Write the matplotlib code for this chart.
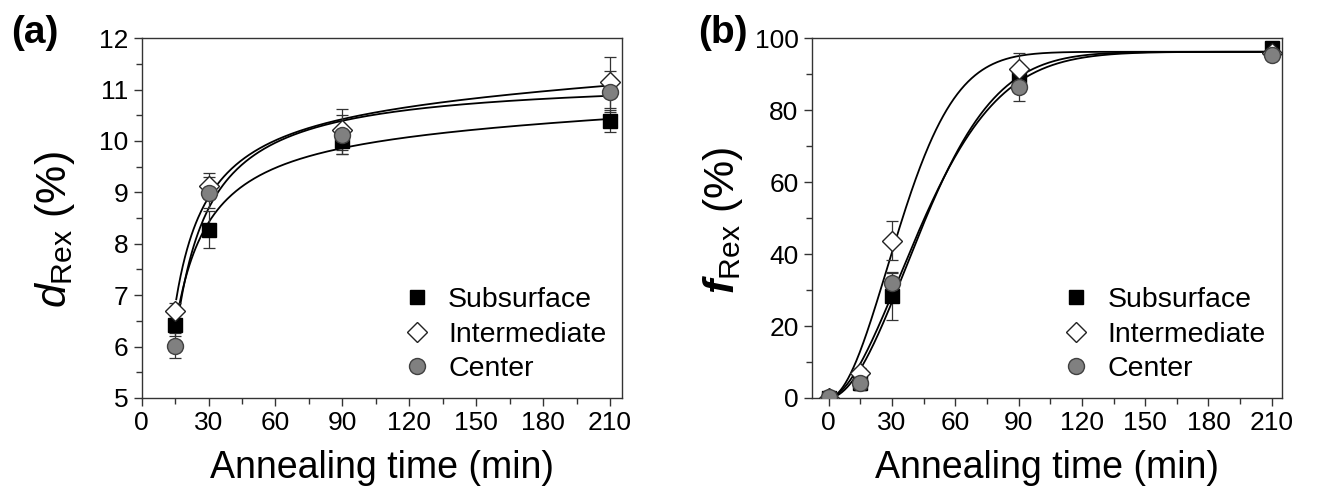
import matplotlib
matplotlib.use("Agg")
import matplotlib.pyplot as plt
import numpy as np

config = {
    "font.family": ["Liberation Sans", "DejaVu Sans"],
    "mathtext.fontset": "custom",
    "mathtext.rm": "Liberation Sans",
    "mathtext.it": "Liberation Sans:italic",
    "mathtext.bf": "Liberation Sans:bold",
    "mathtext.bfit": "Liberation Sans:italic:bold",
    "axes.linewidth": 1.0,
}
plt.rcParams.update(config)

# (a) grain size data
t_a = np.array([15, 30, 90, 210])
d_sub = np.array([6.41, 8.27, 9.99, 10.39])
d_sub_err = np.array([0.20, 0.36, 0.25, 0.21])
d_int = np.array([6.70, 9.13, 10.22, 11.14])
d_int_err = np.array([0.15, 0.25, 0.40, 0.50])
d_cen = np.array([6.02, 8.99, 10.12, 10.96])
d_cen_err = np.array([0.24, 0.30, 0.38, 0.40])

# (b) recrystallized fraction data
t_b = np.array([0, 15, 30, 90, 210])
f_sub = np.array([0.0, 4.2, 28.2, 88.9, 97.2])
f_sub_err = np.array([0.0, 2.0, 6.4, 1.5, 1.0])
f_int = np.array([0.0, 6.9, 43.7, 91.4, 96.0])
f_int_err = np.array([0.0, 1.5, 5.4, 4.4, 1.0])
f_cen = np.array([0.3, 4.2, 32.0, 86.4, 95.4])
f_cen_err = np.array([0.0, 2.0, 3.0, 4.0, 1.0])

labels = ["Subsurface", "Intermediate", "Center"]
x_ticks = [0, 30, 60, 90, 120, 150, 180, 210]

styles = [
    dict(marker="s", ms=10, mfc="black", mec="black", mew=1.0),
    dict(marker="D", ms=10, mfc="white", mec="#222222", mew=1.0),
    dict(marker="o", ms=11.5, mfc="#808080", mec="#404040", mew=1.0),
]


def fit_a(t, y):
    # y = a + c*t + b/t, least squares
    A = np.column_stack([np.ones_like(t, dtype=float), t, 1.0 / t])
    coef, *_ = np.linalg.lstsq(A, y, rcond=None)
    return lambda x: coef[0] + coef[1] * x + coef[2] / x


# common saturation level of the Avrami fits
f_max = np.mean([f_sub[-1], f_int[-1], f_cen[-1]])


def fit_jmak(t, f):
    # Avrami f = f_max * (1 - exp(-ln2 * (t/t50)^n)), brute-force least squares
    n = np.linspace(1.0, 1.9, 46)[:, None]
    t50 = np.linspace(15, 80, 261)[None, :]
    tt = t.astype(float)[:, None, None]
    pred = f_max * (1 - np.exp(-np.log(2) * (tt / t50) ** n))
    sse = ((pred - f[:, None, None]) ** 2).sum(axis=0)
    i, j = np.unravel_index(np.argmin(sse), sse.shape)
    nn, tm = n[i, 0], t50[0, j]
    return lambda x: f_max * (1 - np.exp(-np.log(2) * (x / tm) ** nn))


fig = plt.figure(figsize=(13.38, 4.95), dpi=100)
ax1 = fig.add_axes([0.1059, 0.196, 0.359, 0.727])
ax2 = fig.add_axes([0.6067, 0.196, 0.3512, 0.727])

# panel (a)
xs = np.linspace(15.5, 210, 400)
for y in [d_sub, d_int, d_cen]:
    ax1.plot(xs, fit_a(t_a, y)(xs), color="black", lw=1.3, zorder=2)
for y, e, st, lab in zip([d_sub, d_int, d_cen], [d_sub_err, d_int_err, d_cen_err], styles, labels):
    ax1.errorbar(t_a, y, yerr=e, fmt="none", ecolor="#333333", elinewidth=0.9, capsize=4, capthick=0.9, zorder=3)
    ax1.plot(t_a, y, ls="none", label=lab, zorder=4, **st)

ax1.set_xlim(0, 215.4)
ax1.set_ylim(5, 12)
ax1.set_xticks(x_ticks)
ax1.set_xticks(np.arange(15, 215, 30), minor=True)
ax1.set_yticks(np.arange(5, 13, 1))
ax1.set_yticks(np.arange(5.5, 12, 1), minor=True)
ax1.set_xlabel("Annealing time (min)", fontsize=27, labelpad=11)
ax1.set_ylabel(r"$d_{\mathrm{Rex}}$ (%)", fontsize=31)
ax1.yaxis.set_label_coords(-0.135, 0.467)

# panel (b)
xs2 = np.linspace(0, 210, 500)
for y in [f_sub, f_int, f_cen]:
    ax2.plot(xs2, fit_jmak(t_b, y)(xs2), color="black", lw=1.3, zorder=2)
for y, e, st, lab in zip([f_sub, f_int, f_cen], [f_sub_err, f_int_err, f_cen_err], styles, labels):
    ax2.errorbar(t_b, y, yerr=e, fmt="none", ecolor="#333333", elinewidth=0.9, capsize=4, capthick=0.9, zorder=3)
    ax2.plot(t_b, y, ls="none", label=lab, zorder=4, **st)

ax2.set_xlim(-8, 214.7)
ax2.set_ylim(0, 100)
ax2.set_xticks(x_ticks)
ax2.set_xticks(np.arange(15, 215, 30), minor=True)
ax2.set_yticks(np.arange(0, 101, 20))
ax2.set_yticks(np.arange(10, 100, 20), minor=True)
ax2.set_xlabel("Annealing time (min)", fontsize=27, labelpad=11)
ax2.set_ylabel(r"$\mathbfit{f}_{\mathrm{Rex}}$ (%)", fontsize=31)
ax2.yaxis.set_label_coords(-0.142, 0.494)

for ax in [ax1, ax2]:
    ax.tick_params(axis="both", which="major", direction="out", length=6, width=1.0, labelsize=19, color="#333333")
    ax.tick_params(axis="both", which="minor", direction="out", length=4, width=1.0, color="#333333")
    for sp in ax.spines.values():
        sp.set_color("#333333")
    ax.legend(loc="lower right", frameon=False, fontsize=20.5, handletextpad=0.6,
              labelspacing=0.3, borderaxespad=0.15, handlelength=1.0)

fig.text(0.008, 0.97, "(a)", fontsize=28, fontweight="bold", va="top")
fig.text(0.522, 0.97, "(b)", fontsize=28, fontweight="bold", va="top")

plt.savefig("out.png", dpi=100)
